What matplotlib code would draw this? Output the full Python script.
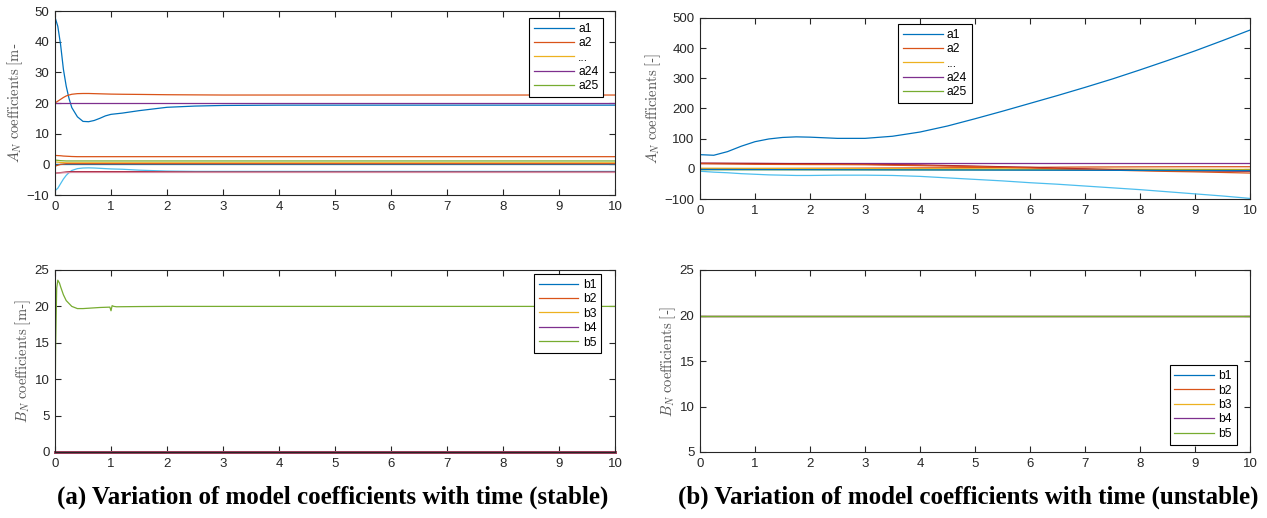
import numpy as np
import matplotlib
matplotlib.use("Agg")
import matplotlib.pyplot as plt
from matplotlib.lines import Line2D

plt.rcParams['font.family'] = ['Liberation Sans', 'DejaVu Sans']
plt.rcParams['mathtext.fontset'] = 'cm'

# MATLAB default colour order
C = ['#0072BD', '#D95319', '#EDB120', '#7E2F8E', '#77AC30', '#4DBEEE', '#A2142F']

# ---------------- (a) stable: A coefficients ----------------
t_sa = [0, 0.05, 0.1, 0.15, 0.2, 0.25, 0.3, 0.4, 0.5, 0.6, 0.7, 0.8, 0.9, 1.0,
        1.2, 1.5, 2.0, 2.5, 3.0, 4, 5, 6, 7, 8, 9, 10]
sa_blue = [48, 45, 39, 31, 25.5, 21.5, 18.5, 15.5, 14.0, 13.9, 14.3, 15.0, 15.8, 16.3,
           16.7, 17.5, 18.6, 19.0, 19.2, 19.3, 19.3, 19.3, 19.3, 19.3, 19.3, 19.3]
sa_orange = [20, 20.6, 21.2, 21.8, 22.3, 22.6, 22.85, 23.05, 23.1, 23.1, 23.05, 23.0, 22.95, 22.9,
             22.85, 22.8, 22.7, 22.65, 22.6, 22.6, 22.6, 22.6, 22.6, 22.6, 22.6, 22.6]
sa_purple = [20] * 26
sa_orange2 = [2.9, 2.85, 2.8, 2.7, 2.65, 2.6, 2.55, 2.5, 2.5, 2.5, 2.5, 2.5, 2.5, 2.5,
              2.5, 2.5, 2.5, 2.5, 2.5, 2.5, 2.5, 2.5, 2.5, 2.5, 2.5, 2.5]
sa_green = [1.4, 1.3, 1.2, 1.15, 1.1, 1.1, 1.1, 1.1, 1.1, 1.1, 1.1, 1.1, 1.1, 1.1,
            1.1, 1.1, 1.1, 1.1, 1.1, 1.1, 1.1, 1.1, 1.1, 1.1, 1.1, 1.1]
sa_yellow = [0.8, 0.7, 0.6, 0.55, 0.5, 0.5, 0.5, 0.5, 0.5, 0.5, 0.5, 0.5, 0.5, 0.5,
             0.5, 0.5, 0.5, 0.5, 0.5, 0.5, 0.5, 0.5, 0.5, 0.5, 0.5, 0.5]
sa_dblue = [0.2, 0.2, 0.2, 0.2, 0.2, 0.2, 0.2, 0.2, 0.2, 0.2, 0.2, 0.2, 0.2, 0.2,
            0.2, 0.2, 0.2, 0.2, 0.2, 0.2, 0.2, 0.2, 0.2, 0.2, 0.2, 0.2]
sa_orange3 = [-0.6, -0.3, 0.0, 0.1, 0.2, 0.2, 0.2, 0.2, 0.2, 0.2, 0.2, 0.2, 0.2, 0.2,
              0.2, 0.2, 0.2, 0.2, 0.2, 0.2, 0.2, 0.2, 0.2, 0.2, 0.2, 0.2]
sa_cyan = [-8.6, -7.8, -6.3, -4.8, -3.6, -2.7, -2.0, -1.4, -1.2, -1.15, -1.2, -1.3, -1.4, -1.5,
           -1.6, -1.9, -2.2, -2.3, -2.3, -2.3, -2.3, -2.3, -2.3, -2.3, -2.3, -2.3]
sa_red = [-2.9, -2.8, -2.7, -2.6, -2.5, -2.45, -2.4, -2.4, -2.4, -2.4, -2.4, -2.4, -2.4, -2.4,
          -2.4, -2.4, -2.45, -2.5, -2.5, -2.5, -2.5, -2.5, -2.5, -2.5, -2.5, -2.5]
sa_pink = [-2.9, -2.85, -2.8, -2.75, -2.7, -2.7, -2.65, -2.65, -2.65, -2.65, -2.65, -2.65, -2.65, -2.65,
           -2.65, -2.65, -2.65, -2.65, -2.65, -2.65, -2.65, -2.65, -2.65, -2.65, -2.65, -2.65]

# ---------------- (a) stable: B coefficients ----------------
t_sb = [0, 0.01, 0.03, 0.05, 0.08, 0.1, 0.15, 0.2, 0.3, 0.4, 0.5, 0.6, 0.8, 0.98,
        1.0, 1.02, 1.05, 1.1, 1.5, 2, 3, 4, 5, 6, 7, 8, 9, 10]
sb_b5 = [3, 14, 22.5, 23.6, 23.2, 22.7, 21.6, 20.8, 20.0, 19.7, 19.7, 19.75, 19.85, 19.9,
         19.4, 20.1, 20.0, 19.95, 19.98, 20, 20, 20, 20, 20, 20, 20, 20, 20]
sb_zero = [0] * 28

# ---------------- (b) unstable: A coefficients ----------------
t_ua = [0, 0.25, 0.5, 0.75, 1.0, 1.25, 1.5, 1.75, 2.0, 2.5, 3.0, 3.5, 4, 4.5, 5,
        5.5, 6, 6.5, 7, 7.5, 8, 8.5, 9, 9.5, 10]
ua_blue = [47, 45, 57, 75, 90, 99, 104, 106, 105, 101, 101, 108, 122, 142, 166,
           191, 217, 243, 270, 298, 328, 359, 391, 425, 460]
ua_cyan = [-8, -11, -13, -16, -18, -20, -21, -22, -22, -21, -21, -22, -25, -30, -35,
           -40, -46, -51, -57, -63, -69, -76, -83, -90, -98]
ua_purple = [20, 20, 20, 20, 20, 20, 20, 20, 20, 20, 20, 20, 20, 20, 20,
             20, 20, 20, 20, 20, 20, 20, 20, 20, 20]
ua_red = [19, 18.8, 18.5, 18.2, 18, 17.7, 17.4, 17.1, 16.8, 16, 15, 14, 13, 11, 9,
          7, 5, 2, 0, -2.5, -5, -6, -7, -7.5, -8]
ua_orange = [17, 16.5, 16, 15.5, 15, 14.8, 14.6, 14.4, 14.2, 14, 13.5, 12, 10.5, 9, 7.5,
             5, 3, 0, -2, -4.5, -6.5, -8.5, -10, -12, -14]
ua_orange2 = [0, 0.2, 0.4, 0.6, 0.8, 1, 1.2, 1.4, 1.6, 2, 2.4, 2.8, 3.2, 3.6, 4,
              4.5, 5, 5.5, 6, 6.3, 6.6, 6.8, 7, 7, 7]
ua_yellow = [2, 2, 1.9, 1.8, 1.7, 1.6, 1.5, 1.4, 1.3, 1.1, 0.9, 0.7, 0.5, 0.3, 0.1,
             -0.1, -0.3, -0.5, -0.7, -0.9, -1.1, -1.3, -1.5, -1.7, -2]
ua_green = [-3, -3, -3, -3, -3, -3, -3, -3, -3, -3.1, -3.1, -3.2, -3.2, -3.3, -3.3,
            -3.4, -3.5, -3.5, -3.6, -3.7, -3.8, -3.8, -3.9, -4, -4]
ua_dblue = [-2, -2.1, -2.2, -2.3, -2.4, -2.5, -2.6, -2.7, -2.8, -3, -3.2, -3.4, -3.6, -3.8, -4,
            -4.2, -4.4, -4.6, -4.8, -5, -5.2, -5.4, -5.6, -5.8, -6]

# ---------------- (b) unstable: B coefficients ----------------
t_ub = [0, 10]
ub_all = [20, 20]

a_labels = ['a1', 'a2', '...', 'a24', 'a25']
b_labels = ['b1', 'b2', 'b3', 'b4', 'b5']

W, H = 1267, 518
fig = plt.figure(figsize=(W / 100, H / 100), dpi=100)

ax_tl = fig.add_axes([55 / W, 1 - 195 / H, 560 / W, 184 / H])
ax_tr = fig.add_axes([700 / W, 1 - 199 / H, 550 / W, 181 / H])
ax_bl = fig.add_axes([55 / W, 1 - 452 / H, 560 / W, 182 / H])
ax_br = fig.add_axes([700 / W, 1 - 452 / H, 550 / W, 182 / H])

axc = '#262626'
lw = 0.9
lab_c = '#555555'


def style(ax, ylim, yticks):
    ax.set_xlim(0, 10)
    ax.set_ylim(*ylim)
    ax.set_xticks(range(0, 11))
    ax.set_yticks(yticks)
    ax.tick_params(direction='in', top=True, right=True, length=4, width=0.8,
                   colors=axc, labelsize=9.5, pad=4)
    for s in ax.spines.values():
        s.set_color(axc)
        s.set_linewidth(0.8)


def legend(ax, handles, labels, **kw):
    lg = ax.legend(handles, labels, fontsize=8.7, frameon=True, fancybox=False,
                   framealpha=1, edgecolor='#000000', handlelength=3.3,
                   labelspacing=0.2, borderpad=0.4, handletextpad=0.35,
                   borderaxespad=0, **kw)
    lg.get_frame().set_linewidth(0.8)
    return lg


def proxies(n):
    return [Line2D([], [], color=C[i], lw=lw) for i in range(n)]


# --- top left
ax = ax_tl
ax.plot(t_sa, sa_blue, color=C[0], lw=lw)
ax.plot(t_sa, sa_orange, color=C[1], lw=lw)
ax.plot(t_sa, sa_yellow, color=C[2], lw=lw)
ax.plot(t_sa, sa_purple, color=C[3], lw=lw)
ax.plot(t_sa, sa_green, color=C[4], lw=lw)
ax.plot(t_sa, sa_cyan, color=C[5], lw=lw)
ax.plot(t_sa, sa_red, color=C[6], lw=lw)
ax.plot(t_sa, sa_orange2, color=C[1], lw=lw)
ax.plot(t_sa, sa_dblue, color=C[0], lw=lw)
ax.plot(t_sa, sa_orange3, color=C[1], lw=lw)
ax.plot(t_sa, sa_pink, color='#D98BA0', lw=lw)
style(ax, (-10, 50), range(-10, 51, 10))
ax.set_ylabel(r'$A_N$ $\mathrm{coefficients}$ $[\mathrm{m}$-', color=lab_c, fontsize=10.5, labelpad=1)
legend(ax, proxies(5), a_labels, loc='upper right', bbox_to_anchor=(0.979, 0.962))

# --- top right
ax = ax_tr
ax.plot(t_ua, ua_blue, color=C[0], lw=lw)
ax.plot(t_ua, ua_orange2, color=C[1], lw=lw)
ax.plot(t_ua, ua_yellow, color=C[2], lw=lw)
ax.plot(t_ua, ua_purple, color=C[3], lw=lw)
ax.plot(t_ua, ua_green, color=C[4], lw=lw)
ax.plot(t_ua, ua_cyan, color=C[5], lw=lw)
ax.plot(t_ua, ua_red, color=C[6], lw=lw)
ax.plot(t_ua, ua_orange, color=C[1], lw=lw)
ax.plot(t_ua, ua_dblue, color=C[0], lw=lw)
style(ax, (-100, 500), range(-100, 501, 100))
ax.set_ylabel(r'$A_N$ $\mathrm{coefficients}$ $[$-$]$', color=lab_c, fontsize=10.5, labelpad=1)
legend(ax, proxies(5), a_labels, loc='upper left', bbox_to_anchor=(0.36, 0.967))

# --- bottom left (b1..b4 all sit on zero, drawn overlapping)
ax = ax_bl
for i in [2, 0, 1, 3]:
    ax.plot(t_sb, sb_zero, color=C[i], lw=2.0, alpha=(0.6 if i == 3 else 1.0), clip_on=False)
ax.plot(t_sb, sb_b5, color=C[4], lw=lw)
style(ax, (0, 25), range(0, 26, 5))
ax.set_ylabel(r'$B_N$ $\mathrm{coefficients}$ $[\mathrm{m}$-$]$', color=lab_c, fontsize=10.5, labelpad=1)
legend(ax, proxies(5), b_labels, loc='upper right', bbox_to_anchor=(0.975, 0.978))

# --- bottom right
ax = ax_br
for i in range(5):
    ax.plot(t_ub, ub_all, color=C[i], lw=lw)
style(ax, (5, 25), range(5, 26, 5))
ax.set_ylabel(r'$B_N$ $\mathrm{coefficients}$ $[$-$]$', color=lab_c, fontsize=10.5, labelpad=1)
legend(ax, proxies(5), b_labels, loc='lower right', bbox_to_anchor=(0.976, 0.04))

# captions
cap_kw = dict(ha='center', va='center', fontsize=18, fontweight='bold',
              family=['Liberation Serif', 'DejaVu Serif'])
fig.text(333 / W, 1 - 497 / H, '(a) Variation of model coefficients with time (stable)', **cap_kw)
fig.text(968 / W, 1 - 497 / H, '(b) Variation of model coefficients with time (unstable)', **cap_kw)

fig.savefig('out.png', dpi=100, facecolor='white')
